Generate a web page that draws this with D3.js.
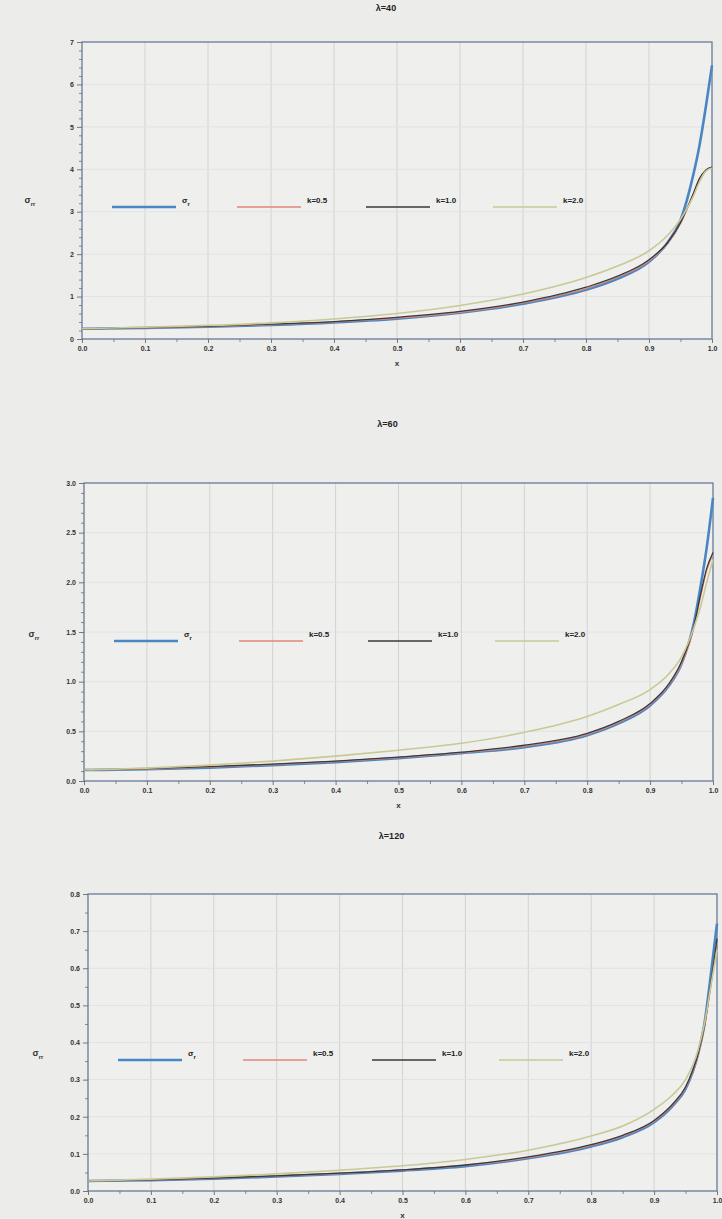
<!DOCTYPE html>
<html>
<head>
<meta charset="utf-8">
<script src="https://cdn.jsdelivr.net/npm/d3@7"></script>
<style>
  body { margin: 0; background: #ececea; }
  svg { display: block; font-family: "Liberation Sans", Arial, sans-serif; }
  .tick text { font-size: 7px; font-weight: bold; fill: #333; }
  .titel { font-size: 9px; font-weight: bold; fill: #222; }
  .legend text { font-size: 8px; font-weight: bold; fill: #222; }
</style>
</head>
<body>
<script>
// x posities (zelfde voor alle drie de grafieken)
const xs = [0, 0.1, 0.2, 0.3, 0.4, 0.5, 0.6, 0.7, 0.8, 0.85, 0.9, 0.93, 0.95, 0.97, 0.98, 0.99, 1.0]
const xTicks = [0, 0.1, 0.2, 0.3, 0.4, 0.5, 0.6, 0.7, 0.8, 0.9, 1.0]
const legendLabels = ["σ", "k=0.5", "k=1.0", "k=2.0"]
const titles = ["λ=40", "λ=60", "λ=120"]

// λ=40
const blue40  = [0.24, 0.26, 0.29, 0.33, 0.39, 0.48, 0.62, 0.83, 1.16, 1.42, 1.82, 2.28, 2.80, 3.85, 4.55, 5.45, 6.45]
const red40   = [0.24, 0.26, 0.29, 0.34, 0.40, 0.49, 0.63, 0.85, 1.19, 1.45, 1.84, 2.26, 2.72, 3.40, 3.75, 3.97, 4.05]
const black40 = [0.24, 0.27, 0.30, 0.35, 0.41, 0.51, 0.65, 0.87, 1.22, 1.48, 1.87, 2.28, 2.74, 3.42, 3.78, 3.98, 4.05]
const olive40 = [0.24, 0.28, 0.32, 0.38, 0.47, 0.60, 0.79, 1.06, 1.45, 1.72, 2.08, 2.45, 2.82, 3.35, 3.70, 3.95, 4.03]
const yTicks40 = [0, 1, 2, 3, 4, 5, 6, 7]

// λ=60
const blue60  = [0.11, 0.12, 0.135, 0.16, 0.19, 0.23, 0.28, 0.34, 0.46, 0.58, 0.76, 0.96, 1.18, 1.60, 1.95, 2.35, 2.85]
const red60   = [0.11, 0.12, 0.14, 0.165, 0.195, 0.235, 0.285, 0.35, 0.47, 0.59, 0.77, 0.97, 1.18, 1.55, 1.85, 2.12, 2.28]
const black60 = [0.11, 0.125, 0.145, 0.17, 0.20, 0.24, 0.29, 0.36, 0.48, 0.60, 0.78, 0.98, 1.20, 1.57, 1.87, 2.14, 2.30]
const olive60 = [0.11, 0.13, 0.16, 0.20, 0.25, 0.31, 0.38, 0.49, 0.65, 0.77, 0.92, 1.08, 1.25, 1.55, 1.75, 2.00, 2.23]
const yTicks60 = [0, 0.5, 1.0, 1.5, 2.0, 2.5, 3.0]

// λ=120
const blue120  = [0.027, 0.029, 0.033, 0.039, 0.046, 0.055, 0.067, 0.088, 0.120, 0.145, 0.185, 0.230, 0.275, 0.370, 0.450, 0.580, 0.720]
const red120   = [0.027, 0.030, 0.034, 0.040, 0.047, 0.056, 0.069, 0.090, 0.123, 0.148, 0.188, 0.232, 0.278, 0.365, 0.440, 0.550, 0.670]
const black120 = [0.027, 0.030, 0.035, 0.041, 0.048, 0.057, 0.070, 0.092, 0.125, 0.150, 0.190, 0.235, 0.280, 0.370, 0.445, 0.555, 0.680]
const olive120 = [0.027, 0.032, 0.038, 0.046, 0.056, 0.068, 0.085, 0.110, 0.148, 0.175, 0.220, 0.260, 0.300, 0.380, 0.450, 0.550, 0.650]
const yTicks120 = [0, 0.1, 0.2, 0.3, 0.4, 0.5, 0.6, 0.7, 0.8]

const colors = ["#4a86c4", "#e0897a", "#3a3a3a", "#c9c896"]
const widths = [2.6, 1.3, 1.3, 1.6]

const svg = d3.select("body").append("svg")
  .attr("width", 722)
  .attr("height", 1219)

// layout per grafiek
const panels = [
  {series: [blue40, red40, black40, olive40], ticks: yTicks40, fmt: d3.format("d"), minor: 0.2,
   left: 82, right: 712, top: 42, bottom: 339, titleY: 11, legendY: 207, yLabelX: 30},
  {series: [blue60, red60, black60, olive60], ticks: yTicks60, fmt: d3.format(".1f"), minor: 0.1,
   left: 84, right: 713, top: 483, bottom: 781, titleY: 427, legendY: 641, yLabelX: 34},
  {series: [blue120, red120, black120, olive120], ticks: yTicks120, fmt: d3.format(".1f"), minor: 0.05,
   left: 88, right: 717, top: 894, bottom: 1191, titleY: 839, legendY: 1060, yLabelX: 38}
]

panels.forEach(function(p, i){ makePanel(p, titles[i]) })

function makePanel(p, title){
  const yMax = p.ticks[p.ticks.length - 1]

  const xScale = d3.scaleLinear().domain([0, 1]).range([p.left, p.right])
  const yScale = d3.scaleLinear().domain([0, yMax]).range([p.bottom, p.top])

  const chart = svg.append("g").attr("class", "chart")

  // achtergrond van plot
  chart.append("rect")
    .attr("x", p.left).attr("y", p.top)
    .attr("width", p.right - p.left).attr("height", p.bottom - p.top)
    .attr("fill", "#efefed")

  // rasterlijnen
  chart.selectAll(".vgrid").data(xTicks.slice(1, -1)).enter().append("line")
    .attr("x1", d => xScale(d)).attr("x2", d => xScale(d))
    .attr("y1", p.top).attr("y2", p.bottom)
    .attr("stroke", "#d2d2d2").attr("stroke-width", 1)

  chart.selectAll(".hgrid").data(p.ticks.slice(1, -1)).enter().append("line")
    .attr("x1", p.left).attr("x2", p.right)
    .attr("y1", d => yScale(d)).attr("y2", d => yScale(d))
    .attr("stroke", "#e2e2e2").attr("stroke-width", 1)

  // kleine ticks
  const minorX = d3.range(0.05, 1, 0.1)
  chart.append("g")
    .attr("transform", "translate(0," + p.bottom + ")")
    .call(d3.axisBottom(xScale).tickValues(minorX).tickSize(3).tickFormat(""))
    .call(g => g.select(".domain").remove())
    .selectAll("line").attr("stroke", "#888")

  const minorY = d3.range(0, yMax + 1e-9, p.minor).filter(v => !p.ticks.some(t => Math.abs(t - v) < 1e-9))
  chart.append("g")
    .attr("transform", "translate(" + p.left + ",0)")
    .call(d3.axisLeft(yScale).tickValues(minorY).tickSize(3).tickFormat(""))
    .call(g => g.select(".domain").remove())
    .selectAll("line").attr("stroke", "#888")

  // x as
  chart.append("g")
    .attr("class", "x axis")
    .attr("transform", "translate(0," + p.bottom + ")")
    .call(d3.axisBottom(xScale).tickValues(xTicks).tickSize(4).tickFormat(d3.format(".1f")))
    .call(g => g.select(".domain").remove())
    .selectAll("line").attr("stroke", "#777")

  // y as
  chart.append("g")
    .attr("class", "y axis")
    .attr("transform", "translate(" + p.left + ",0)")
    .call(d3.axisLeft(yScale).tickValues(p.ticks).tickSize(5).tickFormat(p.fmt))
    .call(g => g.select(".domain").remove())
    .selectAll("line").attr("stroke", "#777")

  // kader
  chart.append("rect")
    .attr("x", p.left).attr("y", p.top)
    .attr("width", p.right - p.left).attr("height", p.bottom - p.top)
    .attr("fill", "none")
    .attr("stroke", "#5d7090").attr("stroke-width", 1.2)

  // lijnen
  const line = d3.line()
    .x((d, j) => xScale(xs[j]))
    .y(d => yScale(d))
    .curve(d3.curveMonotoneX)

  p.series.forEach(function(s, k){
    chart.append("path")
      .attr("d", line(s))
      .attr("fill", "none")
      .attr("stroke", colors[k])
      .attr("stroke-width", widths[k])
  })

  // titel
  chart.append("text")
    .attr("class", "titel")
    .attr("x", (p.left + p.right) / 2 - 11)
    .attr("y", p.titleY)
    .attr("text-anchor", "middle")
    .text(title)

  // x label
  chart.append("text")
    .attr("x", xScale(0.5))
    .attr("y", p.bottom + 27)
    .attr("text-anchor", "middle")
    .attr("font-size", 8).attr("font-weight", "bold").attr("fill", "#333")
    .text("x")

  // y label
  const yl = chart.append("text")
    .attr("x", p.yLabelX)
    .attr("y", p.legendY - 4)
    .attr("text-anchor", "middle")
    .attr("font-size", 9).attr("font-weight", "bold").attr("fill", "#333")
  yl.append("tspan").text("σ")
  yl.append("tspan").attr("dy", 3).attr("font-size", 6).text("rr")

  // legenda
  const offsets = [30, 155, 284, 411]
  const legend = chart.append("g").attr("class", "legend")
  legendLabels.forEach(function(lab, k){
    const x0 = p.left + offsets[k]
    legend.append("line")
      .attr("x1", x0).attr("x2", x0 + 64)
      .attr("y1", p.legendY).attr("y2", p.legendY)
      .attr("stroke", colors[k])
      .attr("stroke-width", k == 0 ? 2.6 : 1.3)
    const t = legend.append("text")
      .attr("x", x0 + 70)
      .attr("y", p.legendY - 4)
    t.append("tspan").text(lab)
    if (k == 0) t.append("tspan").attr("dy", 3).attr("font-size", 6).text("r")
  })
}
</script>
</body>
</html>
